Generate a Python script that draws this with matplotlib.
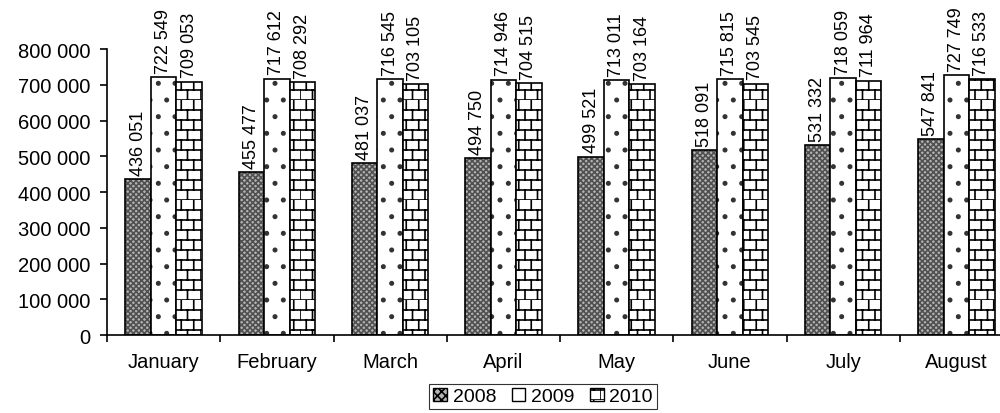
import matplotlib
matplotlib.use("Agg")
import matplotlib.pyplot as plt
import matplotlib.hatch as mhatch
import numpy as np
import warnings
from matplotlib.patches import Patch
from matplotlib.path import Path

warnings.filterwarnings("ignore")
plt.rcParams['font.family'] = ['Liberation Sans', 'DejaVu Sans']
plt.rcParams['hatch.linewidth'] = 1.2

months = ["January", "February", "March", "April", "May", "June", "July", "August"]
years = ["2008", "2009", "2010"]
v2008 = [436051, 455477, 481037, 494750, 499521, 518091, 531332, 547841]
v2009 = [722549, 717612, 716545, 714946, 713011, 715815, 718059, 727749]
v2010 = [709053, 708292, 703105, 704515, 703164, 703545, 711964, 716533]
y_ticks = [0, 100000, 200000, 300000, 400000, 500000, 600000, 700000, 800000]


# brick hatch ("b"), not in matplotlib by default
class BrickHatch(mhatch.HatchPatternBase):
  rows = 10
  cols = 8

  def __init__(self, hatch, density):
    self.on = hatch.count("b") > 0
    self.num_vertices = (self.rows * 2 + self.rows * self.cols * 2) if self.on else 0

  def set_vertices_and_codes(self, vertices, codes):
    i = 0
    for r in range(self.rows):
      y = r / self.rows
      vertices[i] = (0, y); codes[i] = Path.MOVETO
      vertices[i + 1] = (1, y); codes[i + 1] = Path.LINETO
      i += 2
    for r in range(self.rows):
      for c in range(self.cols):
        xx = ((c + 0.5 * (r % 2)) / self.cols) % 1.0
        vertices[i] = (xx, r / self.rows); codes[i] = Path.MOVETO
        vertices[i + 1] = (xx, (r + 1) / self.rows); codes[i + 1] = Path.LINETO
        i += 2


mhatch._hatch_types.append(BrickHatch)


def fmt(v):
  return f"{v:,}".replace(",", " ")


fig = plt.figure(figsize=(10, 4.14), dpi=100)
ax = fig.add_axes([0.107, 0.188, 0.906, 0.691])

x = np.arange(len(months))
w = 0.225
series = [v2008, v2009, v2010]
styles = [
  dict(face="#b4b4b4", hatch="xxxxxx", hcol="#505050"),
  dict(face="white", hatch=".", hcol="#333333"),
  dict(face="white", hatch="b", hcol="black"),
]

for i, vals in enumerate(series):
  pos = x + (i - 1) * w
  st = styles[i]
  ax.bar(pos, vals, w, color=st["face"], edgecolor=st["hcol"], hatch=st["hatch"], linewidth=0)
  ax.bar(pos, vals, w, fill=False, edgecolor="black", linewidth=1.2)
  for p, v in zip(pos, vals):
    ax.annotate(fmt(v), (p, v), xytext=(0, 3), textcoords="offset points",
                rotation=90, ha="center", va="bottom", fontsize=13)

ax.set_xlim(-0.5, len(months) - 0.5)
ax.set_ylim(0, 800000)
ax.set_yticks(y_ticks)
ax.set_yticklabels([fmt(t) for t in y_ticks], fontsize=14.5)
ax.set_xticks(x)
ax.set_xticklabels(months, fontsize=14.5)
ax.tick_params(axis="x", length=0, pad=12)
ax.set_xticks(np.arange(len(months)) - 0.5, minor=True)
ax.tick_params(axis="x", which="minor", length=5, width=1.2, direction="out")
ax.tick_params(axis="y", length=5, width=1.2, direction="out", pad=7)
ax.spines["top"].set_visible(False)
ax.spines["right"].set_visible(False)
ax.spines["left"].set_linewidth(1.2)
ax.spines["bottom"].set_linewidth(1.2)

handles = [
  Patch(facecolor="#b4b4b4", edgecolor="black", hatch="xxxx"),
  Patch(facecolor="white", edgecolor="black"),
  Patch(facecolor="white", edgecolor="black", hatch="b"),
]
leg = fig.legend(handles, years, loc="center", bbox_to_anchor=(0.543, 0.04), ncol=3,
                 fontsize=14, frameon=True, fancybox=False, edgecolor="black",
                 handlelength=0.7, handleheight=0.7, handletextpad=0.3,
                 columnspacing=0.8, borderpad=0.2, borderaxespad=0)
leg.get_frame().set_linewidth(0.8)

fig.savefig("out.png", dpi=100)
